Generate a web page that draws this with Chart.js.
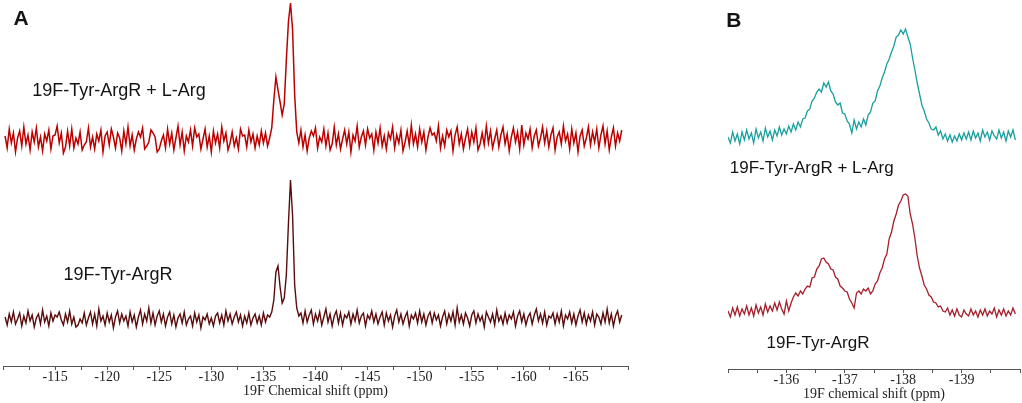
<!DOCTYPE html>
<html>
<head>
<meta charset="utf-8">
<script src="https://cdn.jsdelivr.net/npm/chart.js@4.4.1/dist/chart.umd.min.js"></script>
<style>
  body { margin: 0; background: #fff; }
  #wrapA { position: absolute; left: 0; top: 0; }
  #wrapB { position: absolute; left: 700px; top: 0; }
</style>
</head>
<body>
<div id="wrapA"><canvas id="chartA" width="640" height="403"></canvas></div>
<div id="wrapB"><canvas id="chartB" width="322" height="403"></canvas></div>
<script>
// panel A : full 19F spectra, one point every 0.2 ppm starting at -110.2
const ppmStartA = -110.2
const ppmStepA = -0.2
const aTop = [
  4, -8, 11, -3, 7, -12, 2, 9, -6, 13, -4, 5, -10, 8, -2, 12, -7, 3, -11, 6,
  -1, 10, -9, 4, 5, 14, -3, 7, -13, -7, 9, -6, 11, -8, 2, -4, 8, -10, -5, -2,
  12, -7, 3, -9, 6, -1, 10, -12, 4, 8, -5, 11, 3, -8, 7, 2, -11, 9, -4, 13,
  -6, 5, -10, 1, 8, 3, 12, -9, -6, -2, 10, 7, 3, -12, -9, -1, 5, -8, 11, -4,
  7, -10, 2, 14, -5, 8, -11, 4, -2, 10, -6, 12, 3, 6, -9, 1, 11, -7, 4, -12,
  9, -3, 6, -8, 13, -1, 7, -10, -3, 8, -6, 2, -9, 11, 4, 5, -7, 10, -2, 6,
  -8, 4, -5, 9, -3, 7, -6, 2, 12, 40, 63, 50, 38, 25, 36, 80, 118, 137, 110, 45,
  8, -3, 10, -7, 5, -11, 2, 9, 4, 12, -8, 3, -2, 11, -6, 7, -10, -4, 13, -5,
  6, -9, 1, 10, -4, 8, -12, 5, -1, 14, -7, 3, 9, -5, 11, 2, 6, -10, 8, -3,
  12, -6, 4, -9, 7, 1, 13, -8, 5, -3, 10, -11, -2, 9, -5, 15, -4, 6, -7, 11,
  -2, 8, -10, 3, 12, 5, 7, -1, 14, -8, 4, -6, 10, 3, 9, -11, 5, 13, -4, 6,
  -9, 2, 11, -6, 8, -2, 12, -10, -4, 7, -5, 14, -3, 9, -8, 1, 10, -7, 5, 13,
  -4, 6, -11, 3, 12, -2, 8, -9, 15, -5, 7, 1, 11, -8, 4, 10, -6, 2, 13, -3,
  9, -7, 5, 12, -10, 3, 8, -4, 14, -1, 6, -9, 11, -3, 7, -12, 4, 10, -6, 2,
  13, -5, 8, -2, 11, -8, 5, 14, -4, 9, -10, 3, 12, -6, 7, -1, 10
]
const aBottom = [
  3, -5, 6, -2, 8, -4, 1, 7, -6, 4, -3, 9, -1, 5, -7, 2, 6, -4, 10, -2,
  4, -6, 7, -1, 5, 3, 8, 0, -5, 6, -2, 9, -4, 3, -7, -5, 1, -3, 7, -5,
  2, 8, -4, 6, -6, 11, -1, 4, -5, 7, -2, 5, -8, 3, 9, -3, 6, -1, 4, -6,
  8, -2, 5, -7, 3, 10, -4, 6, -1, 12, -3, 7, -5, 4, 9, -2, 6, -6, 3, 8,
  -4, 5, -7, 2, 6, -3, 8, -5, 1, 4, -6, 7, -2, 5, -8, 3, 0, 6, -4, 2,
  -6, 4, 7, -3, 5, -5, 9, -1, 6, -4, 3, 8, -2, 5, -6, 4, -3, 7, -5, 2,
  6, -3, 4, -5, 7, -2, 5, 3, 8, 20, 48, 54, 33, 17, 22, 45, 96, 140, 104, 35,
  12, 4, 7, -3, 9, -2, 5, 10, -4, 6, -1, 8, -5, 3, 11, -2, 6, -6, 4, 9,
  -3, 7, -5, 5, 2, 8, -4, 6, -1, 10, -3, 4, 7, -6, 5, 1, 9, -2, 6, -4,
  3, 8, -5, 7, -1, 5, -7, 4, 10, -2, 6, -4, 3, 8, -6, 5, 1, 7, -3, 9,
  -2, 6, -5, 4, 8, -3, 7, 0, 5, -6, 3, 9, -4, 6, -1, 8, -5, 12, -2, 5,
  -4, 7, 2, -6, 5, 9, -3, 6, -1, 4, -7, 8, 3, -2, 6, -5, 10, -1, 4, -4,
  7, -3, 5, 1, 8, -6, 4, 9, -2, 6, -5, 3, 7, -4, 5, 11, -1, 6, -3, 8,
  -5, 4, 2, 7, -4, 6, -2, 9, -6, 5, 1, 8, -3, 6, -5, 4, 10, -2, 7, -4,
  5, -1, 8, -5, 6, 3, -4, 7, -2, 11, -3, 6, -6, 4, 9, -2, 5
]

// panel B : zoom on the two peaks, one point every 0.04 ppm starting at -135.0
const ppmStartB = -135.0
const ppmStepB = -0.04
const bTop = [
  0, -6, 5, -4, 3, -7, 5, -3, 7, -2,
  4, -6, 8, -1, 5, -4, 9, 0, 6, -3,
  7, 1, 10, 2, 8, 3, 11, 5, 13, 7,
  15, 10, 18, 19, 26, 28, 36, 39, 45, 48,
  45, 54, 50, 55, 46, 43, 35, 32, 34, 24,
  23, 16, 13, 4, 17, 8, 15, 10, 18, 12,
  22, 25, 34, 36, 46, 51, 59, 65, 73, 78,
  85, 91, 100, 102, 107, 103, 108, 100, 93, 79,
  67, 54, 43, 32, 26, 18, 14, 8, 7, 10,
  2, 6, -2, 3, -4, 2, -5, 1, -4, 3,
  -3, 4, -2, 5, -3, 6, -1, 4, -4, 7,
  0, 5, -3, 6, 1, -2, 7, -1, 5, -4,
  6, 0, 7, -3
]
const bBottom = [
  1, -5, 4, -3, 5, -4, 3, -2, 6, -3,
  4, -4, 7, -1, 5, -3, 8, 0, 6, 1,
  9, 2, 10, 3, -2, 11, 1, 9, 15, 19,
  16, 21, 18, 23, 26, 25, 34, 35, 43, 46,
  53, 54, 50, 48, 43, 42, 35, 33, 26, 24,
  21, 20, 13, 9, 4, 19, 21, 18, 23, 21,
  24, 18, 21, 28, 31, 39, 44, 53, 58, 73,
  80, 91, 98, 107, 111, 117, 118, 116, 98, 88,
  74, 56, 44, 36, 27, 23, 17, 15, 10, 9,
  5, 6, 1, 0, 4, -3, 2, -4, 3, -3,
  -5, 2, -2, -4, 3, -3, 1, -5, 2, -3,
  3, -4, 1, -2, 4, -5, 2, -3, 3, -4,
  1, -3, 4, -2
]

const sampleLabel = '19F-Tyr-ArgR'
const ligandLabel = '19F-Tyr-ArgR + L-Arg'

function points(values, start, step) {
  return values.map((v, i) => ({x: start + i*step, y: v}))
}

// little plugin that writes the panel letters and spectrum names
const annotate = {
  id: 'annotate',
  afterDraw(chart, args, opts) {
    const ctx = chart.ctx
    for (const t of opts.items) {
      ctx.save()
      ctx.font = t.font
      ctx.fillStyle = '#141414'
      ctx.textBaseline = 'middle'
      ctx.fillText(t.text, chart.scales.x.getPixelForValue(t.x), chart.scales[t.axis].getPixelForValue(t.y))
      ctx.restore()
    }
  }
}

function xAxis(min, max, step, title, bigStep) {
  return {
    type: 'linear', reverse: true, min: min, max: max,
    border: {color: '#555', width: 1},
    grid: {drawOnChartArea: false, tickLength: 4, color: '#555'},
    ticks: {
      stepSize: step, autoSkip: false, maxRotation: 0, padding: 0,
      color: '#222', font: {family: 'Liberation Serif', size: 14, lineHeight: 1},
      callback: function(v) {
        const r = Math.round(v / bigStep) * bigStep
        if (Math.abs(v - r) < 1e-6 && v > min && v < max) return String(Math.round(v))
        return ''
      }
    },
    title: {display: true, text: title, color: '#222', padding: 0,
      font: {family: 'Liberation Serif', size: 14, lineHeight: 1}}
  }
}

const lineStyle = {pointRadius: 0, tension: 0, fill: false}

new Chart(document.getElementById('chartA'), {
  type: 'line',
  data: {
    datasets: [
      {...lineStyle, data: points(aTop, ppmStartA, ppmStepA), borderColor: '#bb0000', borderWidth: 1.5, yAxisID: 'y1'},
      {...lineStyle, data: points(aBottom, ppmStartA, ppmStepA), borderColor: '#5a0c0c', borderWidth: 1.4, yAxisID: 'y2'}
    ]
  },
  options: {
    responsive: false, animation: false,
    layout: {padding: {left: 3, right: 12, top: 0, bottom: 5}},
    scales: {
      x: xAxis(-170, -110, 2.5, '19F Chemical shift (ppm)', 5),
      y1: {display: false, min: -226, max: 140},
      y2: {display: false, min: -46, max: 320}
    },
    plugins: {
      legend: {display: false}, tooltip: {enabled: false},
      annotate: {items: [
        {text: 'A', x: -111.0, y: 121, axis: 'y1', font: 'bold 21px "Liberation Sans"'},
        {text: ligandLabel, x: -112.8, y: 49, axis: 'y1', font: '18px "Liberation Sans"'},
        {text: sampleLabel, x: -115.8, y: 45, axis: 'y2', font: '18px "Liberation Sans"'}
      ]}
    }
  },
  plugins: [annotate]
})

new Chart(document.getElementById('chartB'), {
  type: 'line',
  data: {
    datasets: [
      {...lineStyle, data: points(bTop, ppmStartB, ppmStepB), borderColor: '#19a09e', borderWidth: 1.3, yAxisID: 'y1'},
      {...lineStyle, data: points(bBottom, ppmStartB, ppmStepB), borderColor: '#a51f2b', borderWidth: 1.3, yAxisID: 'y2'}
    ]
  },
  options: {
    responsive: false, animation: false,
    layout: {padding: {left: 28, right: 2, top: 0, bottom: 2}},
    scales: {
      x: xAxis(-140, -135, 0.5, '19F chemical shift (ppm)', 1),
      y1: {display: false, min: -232, max: 137},
      y2: {display: false, min: -57, max: 312}
    },
    plugins: {
      legend: {display: false}, tooltip: {enabled: false},
      annotate: {items: [
        {text: 'B', x: -134.97, y: 116, axis: 'y1', font: 'bold 21px "Liberation Sans"'},
        {text: ligandLabel, x: -135.03, y: -31, axis: 'y1', font: '17px "Liberation Sans"'},
        {text: sampleLabel, x: -135.66, y: -31, axis: 'y2', font: '17px "Liberation Sans"'}
      ]}
    }
  },
  plugins: [annotate]
})
</script>
</body>
</html>
